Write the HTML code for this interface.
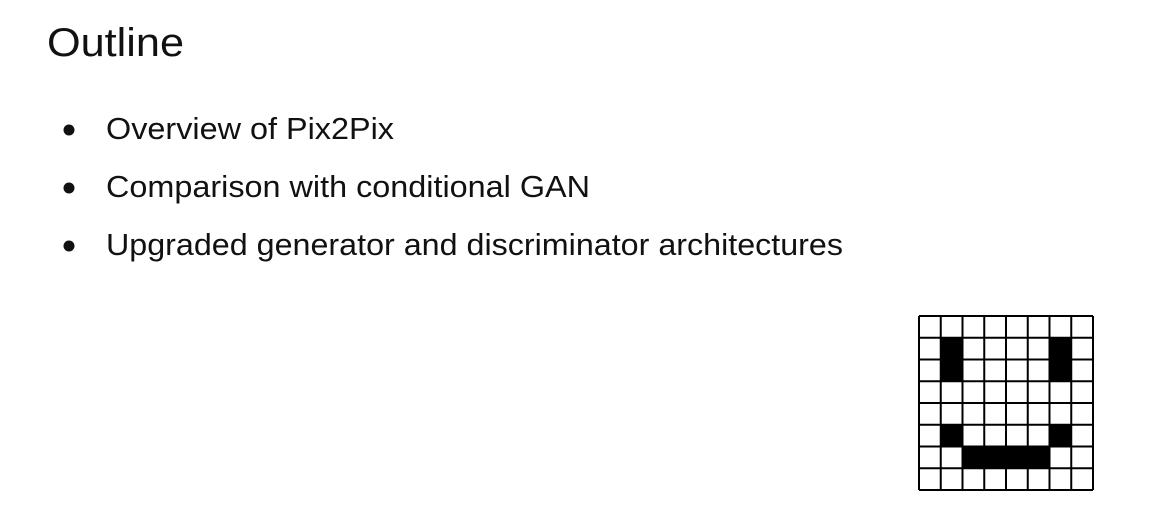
<!DOCTYPE html>
<html><head><meta charset="utf-8"><style>
html,body{margin:0;padding:0;background:#fff;}
svg{display:block;}
text{font-family:"Liberation Sans",sans-serif;fill:#111;}
</style></head><body>
<svg width="1163" height="518" viewBox="0 0 1163 518" xmlns="http://www.w3.org/2000/svg">
<rect width="1163" height="518" fill="#fff"/>
<text x="47" y="56" font-size="40" textLength="137" lengthAdjust="spacingAndGlyphs">Outline</text>
<circle cx="69" cy="130" r="5.5" fill="#111"/>
<circle cx="69" cy="188" r="5.5" fill="#111"/>
<circle cx="69" cy="246" r="5.5" fill="#111"/>
<text x="106" y="139" font-size="31" textLength="288" lengthAdjust="spacingAndGlyphs">Overview of Pix2Pix</text>
<text x="106" y="197" font-size="31" textLength="484" lengthAdjust="spacingAndGlyphs">Comparison with conditional GAN</text>
<text x="106" y="255" font-size="31" textLength="737" lengthAdjust="spacingAndGlyphs">Upgraded generator and discriminator architectures</text>
<g transform="translate(919,316)">
<rect x="0" y="0" width="174" height="174" fill="#fff"/>
<g fill="#000">
<rect x="21.75" y="21.75" width="21.75" height="43.5"/>
<rect x="130.5" y="21.75" width="21.75" height="43.5"/>
<rect x="21.75" y="108.75" width="21.75" height="21.75"/>
<rect x="130.5" y="108.75" width="21.75" height="21.75"/>
<rect x="43.5" y="130.5" width="87" height="21.75"/>
</g>
<g stroke="#000" stroke-width="2">
<line x1="0" y1="0" x2="0" y2="174"/><line x1="21.75" y1="0" x2="21.75" y2="174"/><line x1="43.5" y1="0" x2="43.5" y2="174"/><line x1="65.25" y1="0" x2="65.25" y2="174"/><line x1="87" y1="0" x2="87" y2="174"/><line x1="108.75" y1="0" x2="108.75" y2="174"/><line x1="130.5" y1="0" x2="130.5" y2="174"/><line x1="152.25" y1="0" x2="152.25" y2="174"/><line x1="174" y1="0" x2="174" y2="174"/>
<line y1="0" x1="0" y2="0" x2="174"/><line y1="21.75" x1="0" y2="21.75" x2="174"/><line y1="43.5" x1="0" y2="43.5" x2="174"/><line y1="65.25" x1="0" y2="65.25" x2="174"/><line y1="87" x1="0" y2="87" x2="174"/><line y1="108.75" x1="0" y2="108.75" x2="174"/><line y1="130.5" x1="0" y2="130.5" x2="174"/><line y1="152.25" x1="0" y2="152.25" x2="174"/><line y1="174" x1="0" y2="174" x2="174"/>
</g>
</g>
</svg>
</body></html>
